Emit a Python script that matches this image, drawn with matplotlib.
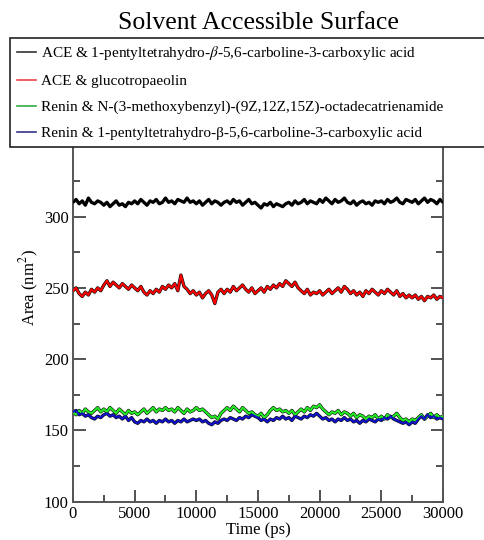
import numpy as np
import matplotlib
matplotlib.use('Agg')
import matplotlib.pyplot as plt
from matplotlib.ticker import MultipleLocator

time_ps = np.arange(0, 30001, 250)

labels = ['ACE & 1-pentyltetrahydro-$\\beta$-5,6-carboline-3-carboxylic acid',
          'ACE & glucotropaeolin',
          'Renin & N-(3-methoxybenzyl)-(9Z,12Z,15Z)-octadecatrienamide',
          'Renin & 1-pentyltetrahydro-\u03b2-5,6-carboline-3-carboxylic acid']

ace_pentyl = [
    310, 312, 309, 311, 308, 313, 310, 309, 311, 310,
    308, 310, 307, 309, 311, 308, 309, 307, 310, 309,
    311, 309, 312, 310, 308, 311, 310, 312, 309, 310,
    313, 310, 311, 309, 312, 311, 310, 313, 310, 311,
    309, 311, 308, 310, 312, 309, 311, 310, 308, 310,
    311, 309, 312, 310, 311, 308, 310, 312, 309, 310,
    308, 306, 309, 308, 310, 307, 309, 308, 307, 309,
    310, 308, 311, 309, 310, 312, 309, 311, 310, 309,
    312, 310, 313, 311, 309, 312, 310, 311, 313, 310,
    309, 311, 308, 310, 311, 309, 310, 308, 311, 310,
    311, 309, 312, 310, 311, 313, 310, 309, 312, 311,
    310, 312, 309, 311, 313, 310, 312, 311, 309, 312, 310]

ace_gluco = [
    248, 250, 246, 244, 247, 245, 249, 247, 250, 248,
    252, 255, 251, 254, 252, 250, 253, 251, 249, 252,
    250, 248, 251, 247, 245, 248, 246, 249, 247, 251,
    249, 252, 250, 253, 248, 259, 251, 249, 246, 248,
    245, 247, 243, 246, 248, 245, 239, 247, 249, 246,
    249, 247, 251, 248, 250, 252, 249, 247, 250, 246,
    248, 250, 247, 251, 249, 252, 250, 253, 251, 255,
    253, 251, 254, 250, 248, 246, 249, 245, 247, 246,
    248, 245, 247, 249, 246, 248, 250, 247, 251, 249,
    246, 248, 245, 247, 244, 248, 246, 249, 247, 245,
    248, 246, 249, 247, 245, 248, 244, 246, 243, 245,
    243, 245, 242, 244, 241, 244, 243, 245, 242, 244, 243]

renin_methoxy = [
    163, 161, 164, 162, 165, 163, 162, 164, 166, 163,
    165, 163, 166, 164, 162, 165, 163, 161, 164, 162,
    163, 161, 163, 165, 162, 164, 166, 163, 165, 164,
    166, 164, 165, 163, 166, 164, 162, 165, 163, 164,
    166, 164, 165, 163, 161, 159, 160, 158, 162, 164,
    166, 164, 167, 165, 163, 166, 164, 162, 163, 161,
    160, 162, 159, 161, 164, 166, 164, 165, 163, 164,
    162, 164, 161, 163, 165, 163, 166, 164, 167, 166,
    168, 165, 163, 161, 163, 162, 164, 161, 163, 162,
    160, 162, 159, 161, 160, 158, 160, 159, 161, 158,
    160, 158, 161, 159, 160, 162, 159, 157, 158, 156,
    158, 157, 159, 161, 158, 160, 162, 159, 161, 159, 160]

renin_pentyl = [
    163, 164, 161, 162, 160, 161, 159, 158, 160, 159,
    161, 162, 160, 161, 159, 160, 158, 160, 157, 159,
    156, 155, 157, 156, 158, 156, 157, 155, 157, 156,
    158, 156, 157, 155, 157, 156, 158, 156, 157, 158,
    157, 158, 156, 157, 155, 154, 156, 155, 157, 158,
    157, 159, 158, 157, 159, 158, 160, 159, 161, 160,
    159, 157, 158, 156, 158, 157, 159, 158, 160, 158,
    159, 157, 160, 159, 158, 160, 159, 161, 160, 162,
    160, 158, 159, 157, 158, 156, 158, 157, 159, 157,
    158, 156, 157, 155, 157, 156, 158, 157, 156, 158,
    157, 159, 158, 160, 158, 157, 156, 155, 156, 154,
    156, 155, 158, 160, 158, 161, 159, 160, 158, 159, 158]

series = [ace_pentyl, ace_gluco, renin_methoxy, renin_pentyl]
colors = ['#000000', '#ff0000', '#22ee22', '#1010cc']
legend_colors = ['#333333', '#ee4444', '#33aa44', '#333388']

plt.rcParams['font.family'] = ['Liberation Serif', 'DejaVu Serif']
plt.rcParams['mathtext.fontset'] = 'stix'

fig = plt.figure(figsize=(4.85, 5.4), dpi=100)
# the top of the frame runs up under the legend box
ax = fig.add_axes([0.1505, 0.0709, 0.7629, 0.792])

for vals, c in zip(series, colors):
    # dark under-stroke like the xmgrace export
    ax.plot(time_ps, vals, color='#111111', lw=2.4, zorder=2)
    ax.plot(time_ps, vals, color=c, lw=1.5, zorder=3)

ax.set_xlim(0, 30000)
ax.set_ylim(100, 400)
ax.xaxis.set_major_locator(MultipleLocator(5000))
ax.xaxis.set_minor_locator(MultipleLocator(2500))
ax.set_yticks([100, 150, 200, 250, 300])
ax.yaxis.set_minor_locator(MultipleLocator(25))
ax.tick_params(which='both', direction='in', right=True, top=True,
               color='#444444', width=1.3, labelsize=12, pad=3)
ax.tick_params(which='major', length=9)
ax.tick_params(which='minor', length=5)
for sp in ax.spines.values():
    sp.set_color('#555555')
    sp.set_linewidth(1.4)

ax.set_xlabel('Time (ps)', fontsize=12, labelpad=0)
ax.set_ylabel('Area (nm$^2$)', fontsize=12, labelpad=2)

handles = [plt.Line2D([], [], color=c, lw=1.2) for c in legend_colors]
leg = fig.legend(handles, labels, loc='upper left',
                 bbox_to_anchor=(0.021, 0.726, 1.05, 0.2036), mode='expand',
                 fontsize=11, frameon=True, fancybox=False, framealpha=1,
                 handlelength=1.3, handletextpad=0.3, labelspacing=0.8,
                 borderaxespad=0, borderpad=0.42)
leg.get_frame().set_edgecolor('#222222')
leg.get_frame().set_linewidth(1.2)
leg.set_zorder(10)

fig.text(0.532, 0.957, 'Solvent Accessible Surface', ha='center', va='center',
         fontsize=18.5)

fig.savefig('out.png', dpi=100)
